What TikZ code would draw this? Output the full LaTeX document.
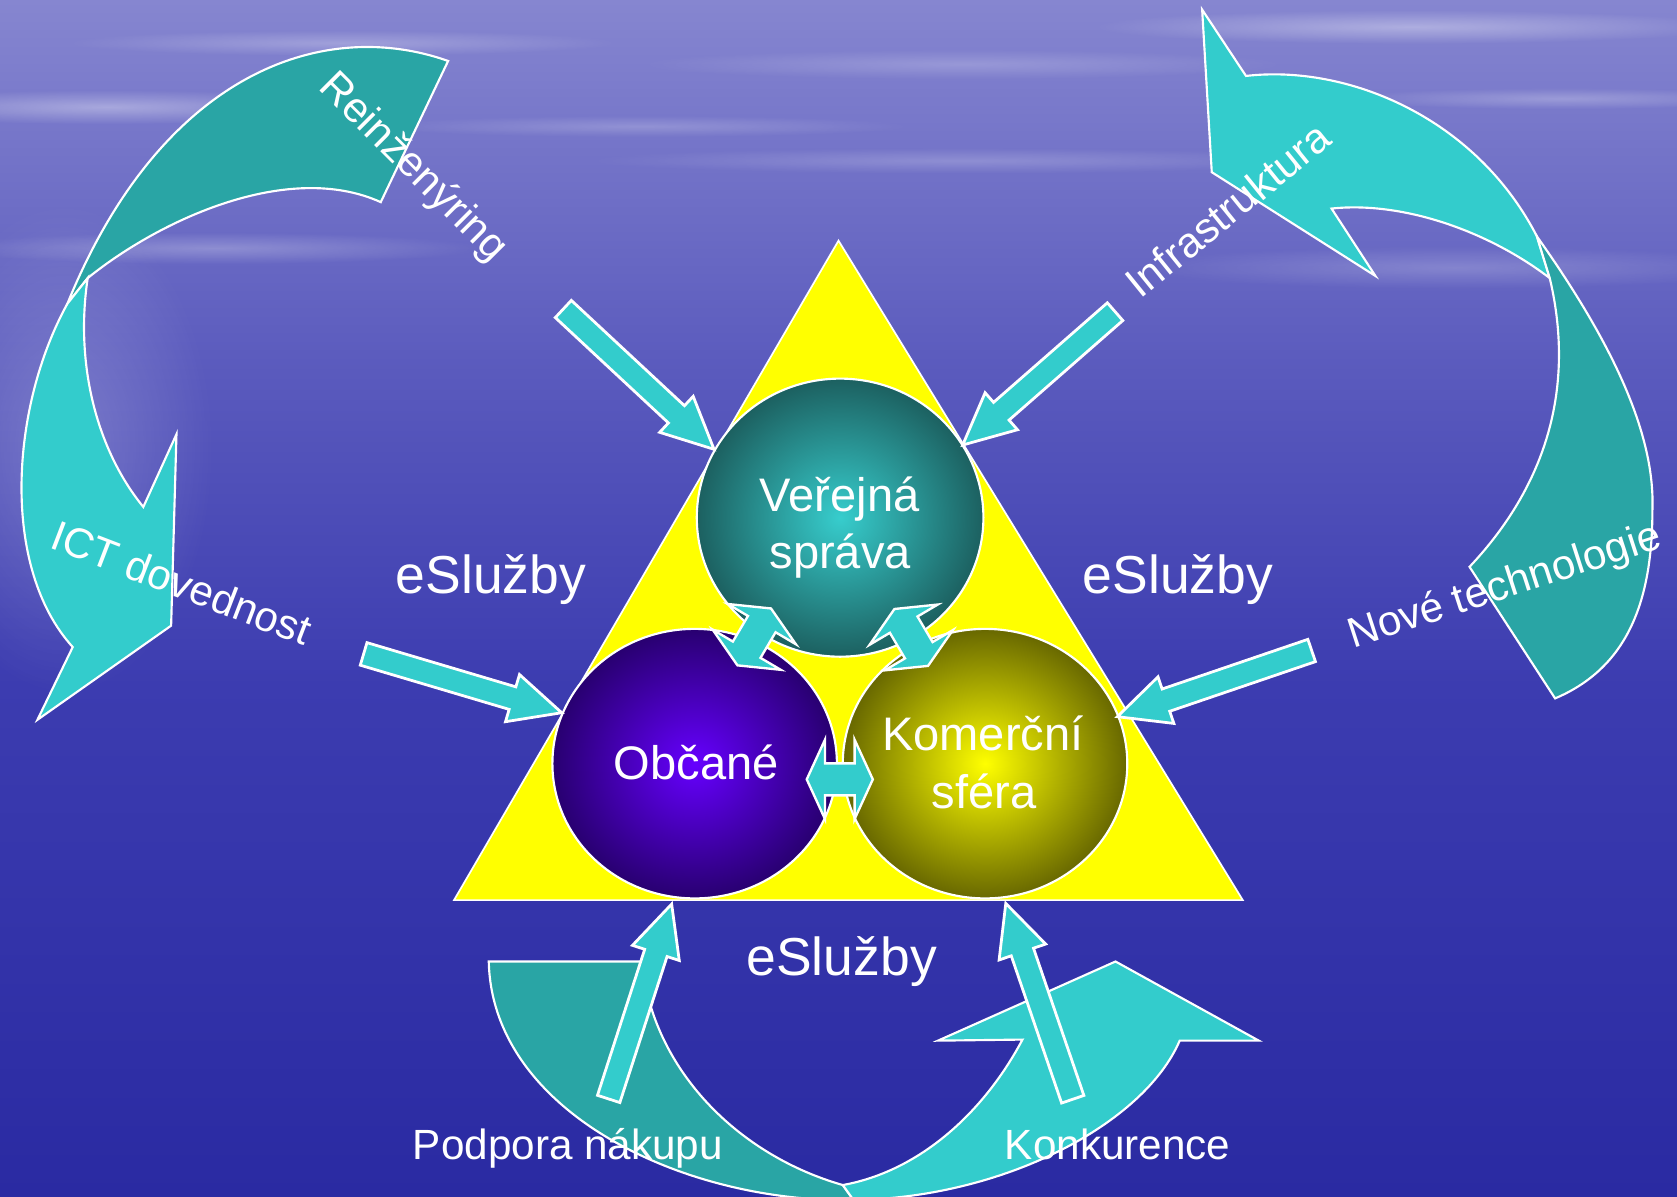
\documentclass[tikz,border=0pt]{standalone}
\usepackage{fontspec}
\setmainfont{Liberation Sans}
\usetikzlibrary{calc,shapes.geometric,fadings}

\definecolor{tealL}{RGB}{51,204,204}
\definecolor{tealD}{RGB}{41,165,165}
\definecolor{bgA}{RGB}{134,134,208}
\definecolor{bgB}{RGB}{92,92,190}
\definecolor{bgC}{RGB}{60,60,176}
\definecolor{bgD}{RGB}{42,42,162}
\definecolor{verIn}{RGB}{55,205,205}
\definecolor{verOut}{RGB}{28,96,96}
\definecolor{obcIn}{RGB}{102,0,255}
\definecolor{obcOut}{RGB}{40,0,112}
\definecolor{komIn}{RGB}{255,255,0}
\definecolor{komOut}{RGB}{104,104,0}
\definecolor{triY}{RGB}{255,255,0}

\tikzfading[name=softspot, inner color=transparent!0, outer color=transparent!100]

\tikzset{
  sarr/.style={fill=tealL, draw=white, line width=2.6pt, line join=miter},
  darr/.style={fill=tealL, draw=white, line width=2.2pt, line join=miter},
  curveL/.style={fill=tealL, draw=white, line width=2pt, line join=miter},
  curveD/.style={fill=tealD, draw=white, line width=2pt, line join=miter},
  circnode/.style={ellipse, draw=white, line width=2pt, inner sep=0pt, shade, shading=radial},
  bigtxt/.style={text=white, font=\fontsize{50}{60}\selectfont, inner sep=0pt},
  circtxt/.style={text=white, font=\fontsize{44}{53}\selectfont, inner sep=0pt},
  lbltxt/.style={text=white, font=\fontsize{39.5}{47}\selectfont, inner sep=0pt},
  streak/.style={fill=white, path fading=softspot},
}

\newcommand{\strarrow}[2]{%
  \coordinate (sB) at ($(#2)!48pt!(#1)$);
  \draw[sarr] ($(#1)!11pt!90:(#2)$) -- ($(sB)!11pt!90:(#2)$) -- ($(sB)!23pt!90:(#2)$) -- (#2)
    -- ($(sB)!23pt!-90:(#2)$) -- ($(sB)!11pt!-90:(#2)$) -- ($(#1)!11pt!-90:(#2)$) -- cycle;}

\newcommand{\dblarrow}[2]{%
  \coordinate (dA) at ($(#1)!17pt!(#2)$);
  \coordinate (dB) at ($(#2)!17pt!(#1)$);
  \draw[darr] (#1) -- ($(dA)!37pt!90:(#2)$) -- ($(dA)!15pt!90:(#2)$) -- ($(dB)!15pt!-90:(#1)$)
    -- ($(dB)!37pt!-90:(#1)$) -- (#2) -- ($(dB)!37pt!90:(#1)$) -- ($(dB)!15pt!90:(#1)$)
    -- ($(dA)!15pt!-90:(#2)$) -- ($(dA)!37pt!-90:(#2)$) -- cycle;}

\begin{document}
\begin{tikzpicture}[x=1pt, y=-1pt]
\useasboundingbox (0,0) rectangle (1568,1119);
\clip (0,0) rectangle (1568,1119);

% background
\shade[top color=bgA, bottom color=bgB] (0,0) rectangle (1568,331);
\shade[top color=bgB, bottom color=bgC] (0,330) rectangle (1568,641);
\shade[top color=bgC, bottom color=bgD] (0,640) rectangle (1568,1119);
\fill[streak, opacity=0.35] (100,100) ellipse [x radius=230pt, y radius=16pt];
\fill[streak, opacity=0.25] (320,40) ellipse [x radius=260pt, y radius=12pt];
\fill[streak, opacity=0.35] (1320,25) ellipse [x radius=300pt, y radius=16pt];
\fill[streak, opacity=0.25] (1460,92) ellipse [x radius=200pt, y radius=10pt];
\fill[streak, opacity=0.2] (900,150) ellipse [x radius=350pt, y radius=12pt];
\fill[streak, opacity=0.2] (600,118) ellipse [x radius=250pt, y radius=10pt];
\fill[streak, opacity=0.2] (1360,250) ellipse [x radius=300pt, y radius=20pt];
\fill[streak, opacity=0.25] (200,232) ellipse [x radius=250pt, y radius=15pt];
\fill[streak, opacity=0.22] (60,420) ellipse [x radius=140pt, y radius=230pt];
\fill[streak, opacity=0.2] (900,60) ellipse [x radius=300pt, y radius=14pt];

% left curved arrow
\coordinate (lT1) at (419,57);  \coordinate (lT2) at (356,189);
\coordinate (lJ1) at (63,284);  \coordinate (lJ2) at (82,260);
\draw[curveD] (lT1) .. controls (300,15) and (150,70) .. (lJ1) -- (lJ2)
  .. controls (150,205) and (270,150) .. (lT2) -- cycle;
\draw[curveL] (lJ1) .. controls (10,380) and (0,530) .. (68,605)
  -- (35,673) -- (160,585) -- (165,406) -- (134,474)
  .. controls (90,420) and (70,340) .. (lJ2) -- cycle;

% right curved arrow
\coordinate (rQ) at (1437,221); \coordinate (rP) at (1449,260);
\draw[curveL] (1124,9) -- (1165,71) .. controls (1260,60) and (1380,110) .. (rQ)
  -- (rP) .. controls (1390,215) and (1310,188) .. (1245,195)
  -- (1286,258) -- (1133,161) -- cycle;
\draw[curveD] (rQ) .. controls (1500,310) and (1548,400) .. (1545,477)
  .. controls (1545,565) and (1520,625) .. (1454,653)
  -- (1374,530) .. controls (1440,460) and (1475,370) .. (rP) -- cycle;

% bottom curved arrow
\coordinate (bD1) at (798,1122); \coordinate (bD2) at (788,1108);
\draw[curveD] (457,899) -- (600,899) .. controls (610,1000) and (690,1080) .. (bD2)
  -- (bD1) .. controls (640,1125) and (460,1040) .. (457,899) -- cycle;
\draw[curveL] (bD1) .. controls (940,1120) and (1070,1050) .. (1103,973)
  -- (1177,973) -- (1043,899) -- (877,973) -- (956,972)
  .. controls (920,1040) and (860,1095) .. (bD2) -- cycle;

% triangle
\coordinate (apex) at (784,225);
\coordinate (tbl) at (424.5,841.6);
\coordinate (tbr) at (1162,841.6);
\draw[fill=triY, draw=white, line width=1.6pt] (apex) -- (tbl) -- (tbr) -- cycle;

% circles
\node[circnode, minimum width=268pt, minimum height=260pt, inner color=verIn, outer color=verOut] (ver) at (785.5,484) {};
\node[circnode, minimum width=266pt, minimum height=252pt, inner color=obcIn, outer color=obcOut] (obc) at (649.5,714) {};
\node[circnode, minimum width=266pt, minimum height=252pt, inner color=komIn, outer color=komOut] (kom) at (921,714) {};

% double arrows between circles
\coordinate (d1a) at (720.9,568.9);
\coordinate (d1b) at (689.5,622.1);
\dblarrow{d1a}{d1b}
\coordinate (d2a) at (836.3,569.4);
\coordinate (d2b) at (867.7,622.6);
\dblarrow{d2a}{d2b}
\coordinate (d3a) at (754.3,728.7);
\coordinate (d3b) at (816.1,728.7);
\dblarrow{d3a}{d3b}

% straight arrows
\coordinate (a1t) at (526.7,288.9);  \coordinate (a1p) at (667.6,420.1);
\coordinate (a2t) at (1042.6,291.4); \coordinate (a2p) at (900.1,416.1);
\coordinate (a3t) at (340,611.4);    \coordinate (a3p) at (525.2,666.4);
\coordinate (a4t) at (1226.4,608.2); \coordinate (a4p) at (1044.7,670.1);
\coordinate (a5t) at (569.1,1027.5); \coordinate (a5p) at (628,845.3);
\coordinate (a6t) at (1003,1027.8);  \coordinate (a6p) at (940.4,844.7);
\strarrow{a1t}{a1p}
\strarrow{a2t}{a2p}
\strarrow{a3t}{a3p}
\strarrow{a4t}{a4p}
\strarrow{a5t}{a5p}
\strarrow{a6t}{a6p}

% texts
\node[bigtxt, anchor=base] (es1) at (459,555) {eSlužby};
\node[bigtxt, anchor=base] (es2) at (1101.5,555) {eSlužby};
\node[bigtxt, anchor=base] (es3) at (787,912) {eSlužby};
\node[circtxt, anchor=base] (vt1) at (785,478.5) {Veřejná};
\node[circtxt, anchor=base] (vt2) at (785.5,532) {správa};
\node[circtxt, anchor=base] (ot) at (651,729) {Občané};
\node[circtxt, anchor=base] (kt1) at (919,702) {Komerční};
\node[circtxt, anchor=base] (kt2) at (920,755.5) {sféra};
\node[lbltxt, rotate=-45] (l1) at (386,157) {Reinženýring};
\node[lbltxt, rotate=-21] (l2) at (170,545) {ICT dovednost};
\node[lbltxt, rotate=39] (l3) at (1148,196) {Infrastruktura};
\node[lbltxt, rotate=18] (l4) at (1407,549) {Nové technologie};
\node[lbltxt, anchor=base] (l5) at (531,1084) {Podpora nákupu};
\node[lbltxt, anchor=base] (l6) at (1045,1084) {Konkurence};
\end{tikzpicture}
\end{document}
